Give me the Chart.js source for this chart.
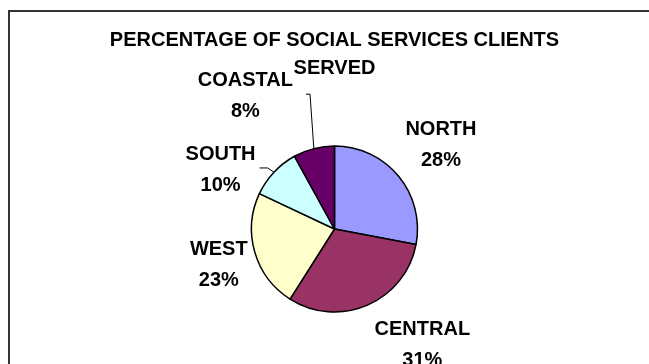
<!DOCTYPE html>
<html>
<head>
<meta charset="utf-8">
<script src="https://cdn.jsdelivr.net/npm/chart.js@4.4.0/dist/chart.umd.min.js"></script>
<style>
  html, body { margin: 0; padding: 0; background: #fff; }
  #wrap { position: relative; width: 649px; height: 364px; overflow: hidden; }
  #frame { position: absolute; left: 8px; top: 10px; width: 700px; height: 400px; border: 2px solid #333; box-sizing: border-box; }
  canvas { position: absolute; left: 0; top: 0; }
</style>
</head>
<body>
<div id="wrap">
  <div id="frame"></div>
  <canvas id="pie" width="649" height="364"></canvas>
</div>
<script>
// Regions and their share of clients served (percent)
const regions = ['NORTH', 'CENTRAL', 'WEST', 'SOUTH', 'COASTAL'];
const clientShares = [28, 31, 23, 10, 8];
const sliceColors = ['#9999ff', '#993366', '#ffffcc', '#ccffff', '#660066'];
const titleLines = ['PERCENTAGE OF SOCIAL SERVICES CLIENTS', 'SERVED'];

// Labels sit out along each slice bisector, then get nudged into place
const labelNudges = [[4, 1], [35, -6], [12, -1], [-17, 32], [-56, -4]];
// Leader lines for labels pulled away from their slice: [gap after text, tick length]
const leaders = [null, null, null, [4, 8], [13, 4]];

const FONT = '"Liberation Sans", Arial, sans-serif';

// Draws "NAME / nn%" next to each slice, with leader lines where needed
const sliceLabels = {
  id: 'sliceLabels',
  afterDatasetsDraw(chart) {
    const ctx = chart.ctx;
    const meta = chart.getDatasetMeta(0);
    const total = clientShares.reduce((a, b) => a + b, 0);
    ctx.save();
    ctx.font = 'bold 20px ' + FONT;
    ctx.textAlign = 'center';
    ctx.textBaseline = 'middle';
    ctx.fillStyle = '#000';
    meta.data.forEach((arc, i) => {
      const { x, y, startAngle, endAngle, outerRadius } =
        arc.getProps(['x', 'y', 'startAngle', 'endAngle', 'outerRadius'], true);
      const mid = (startAngle + endAngle) / 2;
      const cos = Math.cos(mid), sin = Math.sin(mid);
      const lx = x + cos * (outerRadius + 50) + labelNudges[i][0];
      const ly = y + sin * (outerRadius + 50) + labelNudges[i][1];
      const pct = Math.round(clientShares[i] / total * 100) + '%';
      ctx.fillText(regions[i], lx, ly - 15.75);
      ctx.fillText(pct, lx, ly + 15.75);
      if (leaders[i]) {
        const half = ctx.measureText(regions[i]).width / 2;
        const [gap, tick] = leaders[i];
        const sx = lx + half + gap;
        ctx.beginPath();
        ctx.moveTo(sx, ly - 2);
        ctx.lineTo(sx + tick, ly - 2);
        ctx.lineTo(x + cos * outerRadius, y + sin * outerRadius);
        ctx.strokeStyle = '#000';
        ctx.lineWidth = 1;
        ctx.stroke();
      }
    });
    ctx.restore();
  }
};

new Chart(document.getElementById('pie'), {
  type: 'pie',
  data: {
    labels: regions,
    datasets: [{
      data: clientShares,
      backgroundColor: sliceColors,
      borderColor: '#000',
      borderWidth: 1.5,
      radius: 83
    }]
  },
  options: {
    responsive: false,
    animation: false,
    events: [],
    layout: { padding: { left: 20, right: 0, top: 0, bottom: 0 } },
    plugins: {
      legend: { display: false },
      tooltip: { enabled: false },
      title: {
        display: true,
        text: titleLines,
        color: '#000',
        font: { family: FONT, size: 20, weight: 'bold', lineHeight: 1.4 },
        padding: { top: 26, bottom: 12 }
      }
    }
  },
  plugins: [sliceLabels]
});
</script>
</body>
</html>
